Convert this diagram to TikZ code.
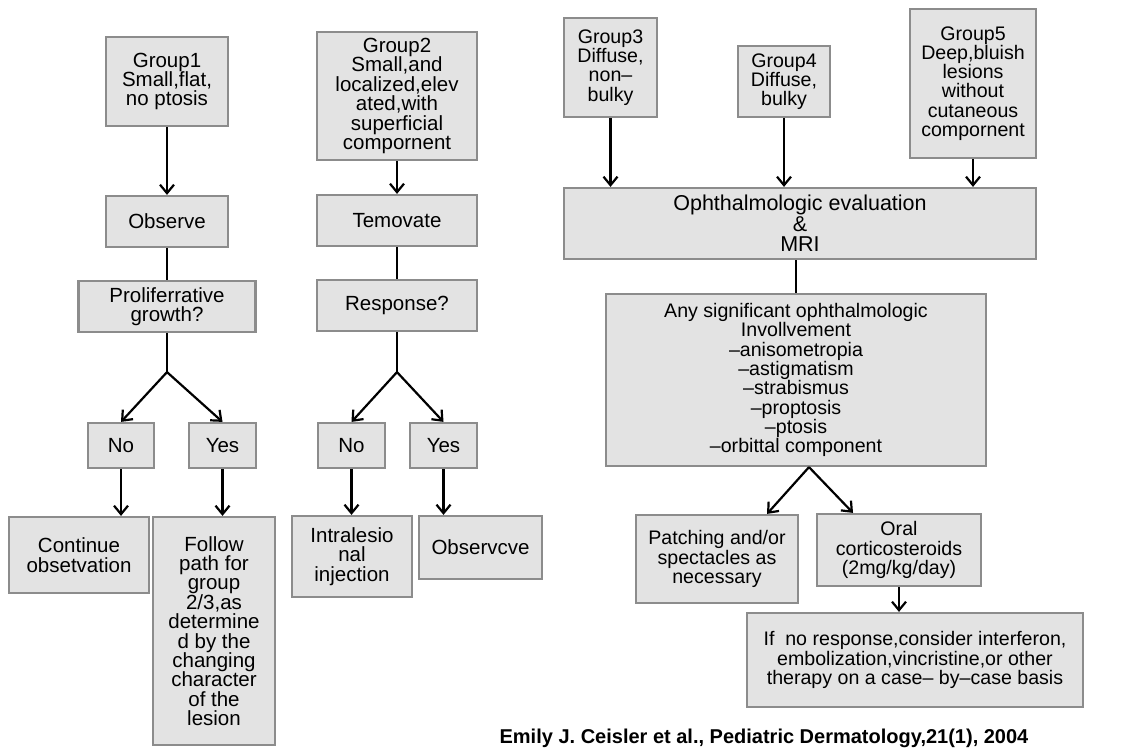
\documentclass[tikz,border=0pt]{standalone}
\usepackage{fontspec}
\setmainfont{Liberation Sans}
\usetikzlibrary{calc,positioning,arrows.meta}

\newcommand\boxfont{\fontsize{20.5}{19.4}\selectfont}
\newcommand\rboxfont{\fontsize{19.6}{19.3}\selectfont}

\begin{document}
\begin{tikzpicture}[x=1pt,y=-1pt]

  \tikzstyle{block} = [draw=black!45, fill=black!11, rectangle, line width=2.2pt, align=center, inner sep=1pt, font=\boxfont]
  \tikzstyle{rblock} = [block, font=\rboxfont]
  \tikzstyle{arr} = [-{Straight Barb[length=8.5pt,width=14pt]}, color=black!100, line width=2.2pt]
  \tikzstyle{link} = [-, color=black!100, line width=2.2pt]

  \useasboundingbox (0,0) rectangle (1145,747);

  % Group 1
  \node[block, minimum width=122pt, minimum height=89pt] (g1) at (167,81.5) {Group1\\Small,flat,\\no ptosis};
  \node[block, minimum width=122pt, minimum height=51pt] (obs1) at (167,221.5) {Observe};
  \node[block, minimum width=177pt, minimum height=51pt] (prolif) at (167,306.5) {Proliferrative\\growth?};
  \node[block, minimum width=66pt, minimum height=45pt] (no1) at (121,445.5) {No};
  \node[block, minimum width=67pt, minimum height=45pt] (yes1) at (222.5,445.5) {Yes};
  \node[block, minimum width=140pt, minimum height=76pt] (cont) at (79,555) {Continue\\obsetvation};
  \node[block, minimum width=122pt, minimum height=228pt] (follow) at (214,631) {Follow\\path for\\group\\2/3,as\\determine\\d by the\\changing\\character\\of the\\lesion};
  \coordinate (split1) at ($(prolif.south)+(0,39)$);

  % Group 2
  \node[block, minimum width=160pt, minimum height=128pt] (g2) at (397,96) {Group2\\Small,and\\localized,elev\\ated,with\\superficial\\compornent};
  \node[block, minimum width=160pt, minimum height=51pt] (temo) at (397,220.5) {Temovate};
  \node[block, minimum width=160pt, minimum height=51pt] (resp) at (397,305.5) {Response?};
  \node[block, minimum width=67pt, minimum height=45pt] (no2) at (351.5,445.5) {No};
  \node[block, minimum width=67pt, minimum height=45pt] (yes2) at (443.5,445.5) {Yes};
  \node[block, minimum width=120pt, minimum height=81pt] (intra) at (352,556.5) {Intralesio\\nal\\injection};
  \node[block, minimum width=123pt, minimum height=63pt] (obs2) at (480.5,547.5) {Observcve};
  \coordinate (split2) at ($(resp.south)+(0,40)$);

  % Groups 3-5
  \node[rblock, minimum width=93pt, minimum height=99pt] (g3) at (610.5,67.5) {Group3\\Diffuse,\\non–\\bulky};
  \node[rblock, minimum width=92pt, minimum height=71pt] (g4) at (784,81.5) {Group4\\Diffuse,\\bulky};
  \node[rblock, minimum width=126pt, minimum height=149pt] (g5) at (973,83.5) {Group5\\Deep,bluish\\lesions\\without\\cutaneous\\compornent};
  \node[block, minimum width=472pt, minimum height=71pt, font=\fontsize{21.5}{20.5}\selectfont] (oph) at (800,223.5) {Ophthalmologic evaluation\\\&\\MRI};
  \node[rblock, minimum width=380pt, minimum height=172pt] (any) at (796,380) {Any significant ophthalmologic\\Invollvement\\–anisometropia\\–astigmatism\\–strabismus\\–proptosis\\–ptosis\\–orbittal component};
  \node[rblock, minimum width=162pt, minimum height=88pt] (pat) at (717,559) {Patching and/or\\spectacles as\\necessary};
  \node[rblock, minimum width=164pt, minimum height=72pt] (oral) at (899,550) {Oral\\corticosteroids\\(2mg/kg/day)};
  \node[rblock, minimum width=336pt, minimum height=94pt] (ifbox) at (915,660) {If\ \ no response,consider interferon,\\embolization,vincristine,or other\\therapy on a case– by–case basis};
  \coordinate (split3) at ($(any.south)+(13,0)$);

  \node[anchor=base, font=\bfseries\fontsize{20}{20}\selectfont] (cite) at (764,743) {Emily J. Ceisler et al., Pediatric Dermatology,21(1), 2004};

  \draw[arr] (g1) -- (obs1);
  \draw[link] (obs1) -- (prolif);
  \draw[link] (prolif) -- (split1);
  \draw[arr] (split1) -- (no1.north);
  \draw[arr] (split1) -- (yes1.north);
  \draw[arr] (no1) -- (no1 |- cont.north);
  \draw[arr] (yes1) -- (yes1 |- follow.north);

  \draw[arr] (g2) -- (temo);
  \draw[link] (temo) -- (resp);
  \draw[link] (resp) -- (split2);
  \draw[arr] (split2) -- (no2.north);
  \draw[arr] (split2) -- (yes2.north);
  \draw[arr] (no2) -- (no2 |- intra.north);
  \draw[arr] (yes2) -- (yes2 |- obs2.north);

  \draw[arr] (g3) -- (g3 |- oph.north);
  \draw[arr] (g4) -- (g4 |- oph.north);
  \draw[arr] (g5) -- (g5 |- oph.north);
  \draw[link] (any.north |- oph.south) -- (any.north);
  \draw[arr] (split3) -- ($(pat.north)+(50,0)$);
  \draw[arr] (split3) -- ($(oral.north)+(-46,0)$);
  \draw[arr] (oral) -- (oral |- ifbox.north);

\end{tikzpicture}
\end{document}
